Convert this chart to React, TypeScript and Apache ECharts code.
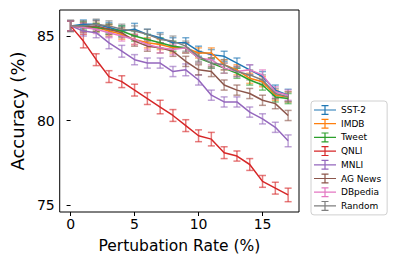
import React, { useEffect, useRef } from "react";
import * as echarts from "echarts";

const X = [0, 1, 2, 3, 4, 5, 6, 7, 8, 9, 10, 11, 12, 13, 14, 15, 16, 17];
const NAMES = ["SST-2", "IMDB", "Tweet", "QNLI", "MNLI", "AG News", "DBpedia", "Random"];
const COLORS = ["#1f77b4", "#ff7f0e", "#2ca02c", "#d62728", "#9467bd", "#8c564b", "#e377c2", "#7f7f7f"];

const SST2 = [85.6, 85.7, 85.7, 85.5, 85.3, 85.4, 85.1, 84.9, 84.6, 84.6, 84.1, 83.9, 83.8, 83.4, 83.0, 82.6, 81.8, 81.5];
const IMDB = [85.6, 85.5, 85.5, 85.3, 85.1, 84.8, 84.6, 84.5, 84.3, 84.3, 84.0, 84.0, 83.3, 83.0, 82.5, 82.3, 81.5, 81.4];
const TWEET = [85.6, 85.6, 85.5, 85.4, 85.3, 85.0, 84.8, 84.6, 84.4, 84.3, 83.7, 83.4, 83.1, 82.8, 82.4, 82.1, 81.4, 81.3];
const QNLI = [85.6, 84.7, 83.6, 82.6, 82.3, 81.8, 81.3, 80.8, 80.3, 79.7, 79.1, 78.9, 78.1, 77.9, 77.4, 76.4, 76.0, 75.6];
const MNLI = [85.6, 85.3, 85.2, 84.6, 84.1, 83.6, 83.4, 83.4, 82.9, 83.0, 82.4, 81.5, 81.1, 81.1, 80.5, 80.1, 79.6, 78.8];
const AGNEWS = [85.6, 85.5, 85.6, 85.4, 85.2, 84.7, 84.4, 84.3, 84.1, 83.5, 83.0, 82.9, 82.1, 81.8, 81.6, 81.2, 81.0, 80.3];
const DBPEDIA = [85.6, 85.5, 85.4, 85.2, 85.0, 84.8, 84.5, 84.3, 84.2, 84.3, 83.7, 83.6, 83.1, 82.9, 83.0, 82.7, 81.7, 81.5];
const RANDOM = [85.6, 85.6, 85.7, 85.6, 85.4, 85.3, 85.1, 84.8, 84.7, 84.4, 83.8, 83.4, 83.3, 82.9, 82.7, 82.4, 81.6, 81.4];

const ERR_SST2 = [0.3, 0.25, 0.25, 0.3, 0.3, 0.35, 0.3, 0.3, 0.3, 0.3, 0.3, 0.3, 0.3, 0.3, 0.3, 0.3, 0.3, 0.35];
const ERR_IMDB = [0.3, 0.25, 0.25, 0.3, 0.3, 0.3, 0.3, 0.3, 0.3, 0.3, 0.3, 0.3, 0.3, 0.3, 0.3, 0.3, 0.3, 0.3];
const ERR_TWEET = [0.3, 0.25, 0.25, 0.3, 0.3, 0.3, 0.3, 0.3, 0.3, 0.3, 0.3, 0.3, 0.3, 0.3, 0.3, 0.3, 0.3, 0.3];
const ERR_QNLI = [0.3, 0.4, 0.35, 0.35, 0.35, 0.35, 0.35, 0.4, 0.35, 0.35, 0.35, 0.4, 0.35, 0.3, 0.35, 0.35, 0.35, 0.4];
const ERR_MNLI = [0.3, 0.3, 0.3, 0.35, 0.35, 0.3, 0.3, 0.3, 0.3, 0.35, 0.3, 0.3, 0.3, 0.3, 0.3, 0.3, 0.3, 0.35];
const ERR_AGNEWS = [0.3, 0.3, 0.3, 0.3, 0.3, 0.3, 0.3, 0.3, 0.3, 0.3, 0.3, 0.3, 0.3, 0.3, 0.3, 0.3, 0.3, 0.3];
const ERR_DBPEDIA = [0.3, 0.25, 0.25, 0.3, 0.3, 0.3, 0.3, 0.3, 0.3, 0.3, 0.3, 0.3, 0.3, 0.3, 0.3, 0.3, 0.3, 0.3];
const ERR_RANDOM = [0.35, 0.3, 0.3, 0.3, 0.3, 0.3, 0.3, 0.3, 0.3, 0.3, 0.3, 0.3, 0.3, 0.3, 0.3, 0.3, 0.3, 0.3];

const VALUES = [SST2, IMDB, TWEET, QNLI, MNLI, AGNEWS, DBPEDIA, RANDOM];
const ERRORS = [ERR_SST2, ERR_IMDB, ERR_TWEET, ERR_QNLI, ERR_MNLI, ERR_AGNEWS, ERR_DBPEDIA, ERR_RANDOM];

const X_TICKS = [0, 5, 10, 15];
const Y_TICKS = [75, 80, 85];

const FONT = "DejaVu Sans";
const ICON =
  "path://M0,4.4h22v1.2h-22z M10.4,0h1.2v10h-1.2z M7.5,0h7v1.2h-7z M7.5,8.8h7v1.2h-7z";

export default function App() {
  const ref = useRef<HTMLDivElement>(null);
  useEffect(() => {
    if (!ref.current) return;
    const chart = echarts.init(ref.current, null, { renderer: "svg" });
    const series: any[] = [];
    NAMES.forEach((name, i) => {
      const color = COLORS[i];
      series.push({
        type: "custom",
        name,
        data: X.map((x, j) => [x, VALUES[i][j] - ERRORS[i][j], VALUES[i][j] + ERRORS[i][j]]),
        encode: { x: 0, y: [1, 2] },
        renderItem: (params: any, api: any) => {
          const x = api.value(0);
          const lo = api.coord([x, api.value(1)]);
          const hi = api.coord([x, api.value(2)]);
          const w = 3.5;
          const st = { stroke: color, lineWidth: 1.5, opacity: 0.6 };
          return {
            type: "group",
            children: [
              { type: "line", shape: { x1: lo[0], y1: lo[1], x2: hi[0], y2: hi[1] }, style: st },
              { type: "line", shape: { x1: lo[0] - w, y1: lo[1], x2: lo[0] + w, y2: lo[1] }, style: st },
              { type: "line", shape: { x1: hi[0] - w, y1: hi[1], x2: hi[0] + w, y2: hi[1] }, style: st },
            ],
          };
        },
        itemStyle: { color },
      });
      series.push({
        type: "line",
        name,
        data: X.map((x, j) => [x, VALUES[i][j]]),
        showSymbol: false,
        symbol: "none",
        lineStyle: { color, width: 1.5 },
        itemStyle: { color },
      });
    });
    chart.setOption({
      animation: false,
      textStyle: { fontFamily: FONT },
      grid: {
        left: 55,
        right: 100,
        top: 10,
        bottom: 54,
        show: true,
        borderColor: "#000",
        borderWidth: 1,
        containLabel: false,
      },
      legend: {
        orient: "vertical",
        left: 311,
        top: 101,
        itemWidth: 22,
        itemHeight: 10,
        itemGap: 3.7,
        padding: [4, 6, 4, 3],
        borderColor: "#d0d0d0",
        borderWidth: 1,
        borderRadius: 3,
        textStyle: { fontSize: 9, fontFamily: FONT, color: "#000" },
        data: NAMES.map((n, i) => ({ name: n, icon: ICON, itemStyle: { color: COLORS[i] } })),
      },
      xAxis: {
        type: "value",
        min: -0.85,
        max: 17.85,
        name: "Pertubation Rate (%)",
        nameLocation: "middle",
        nameGap: 26,
        nameTextStyle: { fontSize: 15.5, fontFamily: FONT, color: "#000" },
        axisLine: { show: false },
        axisTick: { show: true, customValues: X_TICKS, length: 4, lineStyle: { color: "#000" } },
        axisLabel: { customValues: X_TICKS, fontSize: 14, color: "#000", fontFamily: FONT, margin: 5 },
        splitLine: { show: false },
      },
      yAxis: {
        type: "value",
        min: 74.59,
        max: 86.54,
        name: "Accuracy (%)",
        nameLocation: "middle",
        nameGap: 26,
        nameTextStyle: { fontSize: 18, fontFamily: FONT, color: "#000" },
        axisLine: { show: false },
        axisTick: { show: true, customValues: Y_TICKS, length: 4, lineStyle: { color: "#000" } },
        axisLabel: { customValues: Y_TICKS, fontSize: 14, color: "#000", fontFamily: FONT, margin: 5 },
        splitLine: { show: false },
      },
      series,
    });
    return () => chart.dispose();
  }, []);
  return <div ref={ref} style={{ width: 399, height: 266, position: "absolute", left: 0, top: 0 }} />;
}
